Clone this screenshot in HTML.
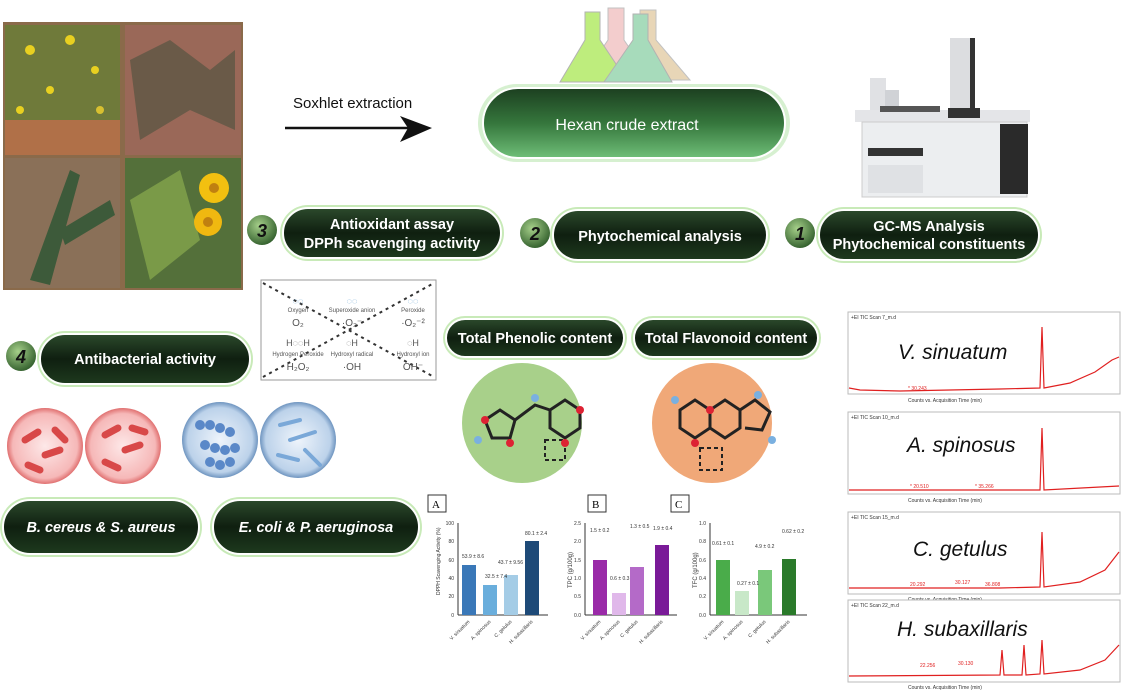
<!DOCTYPE html>
<html><head><meta charset="utf-8"><style>
html,body{margin:0;padding:0;background:#fff;width:1128px;height:690px;overflow:hidden}
svg{display:block;font-family:"Liberation Sans",Arial,sans-serif}
</style></head><body>
<svg width="1128" height="690" viewBox="0 0 1128 690" xmlns="http://www.w3.org/2000/svg">
<defs>
<linearGradient id="pill" x1="0" y1="0" x2="0" y2="1">
<stop offset="0" stop-color="#2c4a2c"/><stop offset="0.5" stop-color="#0f1f10"/><stop offset="1" stop-color="#1e3a1e"/></linearGradient>
<linearGradient id="hex" x1="0" y1="0" x2="0" y2="1">
<stop offset="0" stop-color="#1c3f20"/><stop offset="0.5" stop-color="#35763c"/><stop offset="1" stop-color="#6fbf78"/></linearGradient>
<radialGradient id="num" cx="0.4" cy="0.35" r="0.7"><stop offset="0" stop-color="#a6d08a"/><stop offset="1" stop-color="#2f5c2a"/></radialGradient>
<radialGradient id="bacR" cx="0.5" cy="0.5" r="0.5"><stop offset="0" stop-color="#fde8e8"/><stop offset="0.85" stop-color="#f6b8b8"/><stop offset="1" stop-color="#e07070"/></radialGradient>
<radialGradient id="bacB" cx="0.5" cy="0.5" r="0.5"><stop offset="0" stop-color="#eef4fb"/><stop offset="0.85" stop-color="#bcd2ea"/><stop offset="1" stop-color="#6f95c0"/></radialGradient>
</defs>

<!-- photos -->
<rect x="3" y="22" width="240" height="268" fill="#8a6a4a"/>
<rect x="5" y="25" width="115" height="130" fill="#6f7a3a"/>
<circle cx="30" cy="50" r="5" fill="#e8d020"/><circle cx="70" cy="40" r="5" fill="#e8d020"/><circle cx="95" cy="70" r="4" fill="#e8d020"/><circle cx="50" cy="90" r="4" fill="#e8d020"/><circle cx="20" cy="110" r="4" fill="#e8d020"/><circle cx="100" cy="110" r="4" fill="#d8c030"/>
<rect x="5" y="120" width="115" height="35" fill="#b07048"/>
<rect x="125" y="25" width="116" height="130" fill="#9a6858"/>
<path d="M130 60 L170 40 L210 70 L235 50 L235 130 L190 110 L140 140Z" fill="#6a5a48"/>
<rect x="5" y="158" width="115" height="130" fill="#8a7058"/>
<path d="M30 280 L70 170 L80 175 L50 285Z M60 230 L110 200 L115 215 L65 245Z" fill="#3d5a3a"/>
<rect x="125" y="158" width="116" height="130" fill="#54703a"/>
<path d="M130 200 L180 170 L200 240 L150 280Z" fill="#7a9a48"/>
<circle cx="214" cy="188" r="15" fill="#f2c010"/><circle cx="208" cy="222" r="14" fill="#f0b810"/>
<circle cx="214" cy="188" r="5" fill="#c08010"/><circle cx="208" cy="222" r="5" fill="#c08010"/>

<!-- soxhlet -->
<text x="293" y="108" font-size="15" fill="#111">Soxhlet extraction</text>
<line x1="285" y1="128" x2="415" y2="128" stroke="#111" stroke-width="2.5"/>
<path d="M400 116 L432 128 L400 142 L408 128Z" fill="#111"/>

<!-- flasks -->
<g opacity="0.9">
<path d="M608 8 L624 8 L624 40 L650 78 L582 78 L608 40Z" fill="#f2c8c8" stroke="#bbb"/>
<path d="M640 10 L656 10 L656 40 L690 80 L614 80 L640 40Z" fill="#e6d2b0" stroke="#bbb"/>
<path d="M585 12 L600 12 L600 40 L628 82 L560 82 L585 40Z" fill="#b8ec70" stroke="#aaa"/>
<path d="M633 14 L648 14 L648 40 L672 82 L604 82 L633 40Z" fill="#9ed8b4" stroke="#aaa"/>
</g>

<!-- hexan pill -->
<rect x="478" y="84" width="312" height="78" rx="39" fill="#d6f0d0"/>
<rect x="483" y="88" width="302" height="70" rx="35" fill="url(#hex)" stroke="#fff" stroke-width="2"/>
<text x="627" y="130" font-size="16" fill="#fff" text-anchor="middle">Hexan crude extract</text>

<!-- GC-MS machine -->
<g>
<rect x="950" y="38" width="25" height="70" fill="#dcdde0"/><rect x="970" y="38" width="5" height="70" fill="#333"/>
<rect x="870" y="78" width="16" height="35" fill="#e0e1e4"/><rect x="885" y="90" width="14" height="18" fill="#d0d2d6"/>
<rect x="855" y="110" width="175" height="12" fill="#e4e5e8"/>
<rect x="880" y="106" width="60" height="6" fill="#555"/><rect x="948" y="108" width="32" height="10" fill="#333"/>
<rect x="862" y="122" width="165" height="75" fill="#eceef0" stroke="#ccc"/>
<rect x="868" y="148" width="55" height="8" fill="#333"/>
<rect x="1000" y="124" width="28" height="70" fill="#2a2a2a"/>
<rect x="868" y="165" width="55" height="28" fill="#dfe1e4"/>
</g>

<!-- numbered pills -->
<g font-weight="bold">
<circle cx="262" cy="230" r="15" fill="url(#num)"/><text x="262" y="237" font-size="18" font-style="italic" fill="#111" text-anchor="middle">3</text>
<rect x="280" y="205" width="224" height="56" rx="28" fill="#c8eab8"/>
<rect x="283" y="208" width="218" height="50" rx="25" fill="url(#pill)" stroke="#fff" stroke-width="2"/>
<text x="392" y="229" font-size="14.5" fill="#fff" text-anchor="middle">Antioxidant assay</text>
<text x="392" y="248" font-size="14.5" fill="#fff" text-anchor="middle">DPPh scavenging activity</text>

<circle cx="535" cy="233" r="15" fill="url(#num)"/><text x="535" y="240" font-size="18" font-style="italic" fill="#111" text-anchor="middle">2</text>
<rect x="550" y="207" width="220" height="56" rx="28" fill="#c8eab8"/>
<rect x="553" y="210" width="214" height="50" rx="25" fill="url(#pill)" stroke="#fff" stroke-width="2"/>
<text x="660" y="241" font-size="14.5" fill="#fff" text-anchor="middle">Phytochemical analysis</text>

<circle cx="800" cy="233" r="15" fill="url(#num)"/><text x="800" y="240" font-size="18" font-style="italic" fill="#111" text-anchor="middle">1</text>
<rect x="816" y="207" width="226" height="56" rx="28" fill="#c8eab8"/>
<rect x="819" y="210" width="220" height="50" rx="25" fill="url(#pill)" stroke="#fff" stroke-width="2"/>
<text x="929" y="231" font-size="14.5" fill="#fff" text-anchor="middle">GC-MS Analysis</text>
<text x="929" y="249" font-size="14.5" fill="#fff" text-anchor="middle">Phytochemical constituents</text>

<circle cx="21" cy="356" r="15" fill="url(#num)"/><text x="21" y="363" font-size="18" font-style="italic" fill="#111" text-anchor="middle">4</text>
<rect x="37" y="331" width="216" height="56" rx="28" fill="#c8eab8"/>
<rect x="40" y="334" width="210" height="50" rx="25" fill="url(#pill)" stroke="#fff" stroke-width="2"/>
<text x="145" y="364" font-size="14.5" fill="#fff" text-anchor="middle">Antibacterial activity</text>

<rect x="443" y="316" width="184" height="44" rx="22" fill="#c8eab8"/>
<rect x="446" y="319" width="178" height="38" rx="19" fill="url(#pill)" stroke="#fff" stroke-width="2"/>
<text x="535" y="343" font-size="14.5" fill="#fff" text-anchor="middle">Total Phenolic content</text>
<rect x="631" y="316" width="190" height="44" rx="22" fill="#c8eab8"/>
<rect x="634" y="319" width="184" height="38" rx="19" fill="url(#pill)" stroke="#fff" stroke-width="2"/>
<text x="726" y="343" font-size="14.5" fill="#fff" text-anchor="middle">Total Flavonoid content</text>

<rect x="0" y="497" width="202" height="60" rx="30" fill="#c8eab8"/>
<rect x="3" y="500" width="196" height="54" rx="27" fill="url(#pill)" stroke="#fff" stroke-width="2"/>
<text x="101" y="532" font-size="14.5" font-style="italic" fill="#fff" text-anchor="middle">B. cereus &amp; S. aureus</text>
<rect x="210" y="497" width="212" height="60" rx="30" fill="#c8eab8"/>
<rect x="213" y="500" width="206" height="54" rx="27" fill="url(#pill)" stroke="#fff" stroke-width="2"/>
<text x="316" y="532" font-size="14.5" font-style="italic" fill="#fff" text-anchor="middle">E. coli &amp; P. aeruginosa</text>
</g>

<!-- ROS box -->
<rect x="261" y="280" width="175" height="100" fill="#fff" stroke="#999"/>
<line x1="263" y1="283" x2="434" y2="377" stroke="#333" stroke-width="2" stroke-dasharray="3,4"/>
<line x1="263" y1="377" x2="434" y2="283" stroke="#333" stroke-width="2" stroke-dasharray="3,4"/>
<g font-size="6" fill="#555" text-anchor="middle">
<text x="298" y="304" fill="#4a90c8" font-size="9">◌◌</text><text x="298" y="312">Oxygen</text><text x="298" y="326" font-size="10">O₂</text>
<text x="352" y="304" fill="#4a90c8" font-size="9">◌◌</text><text x="352" y="312">Superoxide anion</text><text x="352" y="326" font-size="10">·O₂⁻</text>
<text x="413" y="304" fill="#4a90c8" font-size="9">◌◌</text><text x="413" y="312">Peroxide</text><text x="413" y="326" font-size="10">·O₂⁻²</text>
<text x="298" y="346" font-size="9">H◌◌H</text><text x="298" y="356">Hydrogen Peroxide</text><text x="298" y="370" font-size="10">H₂O₂</text>
<text x="352" y="346" font-size="9">◌H</text><text x="352" y="356">Hydroxyl radical</text><text x="352" y="370" font-size="10">·OH</text>
<text x="413" y="346" font-size="9">◌H</text><text x="413" y="356">Hydroxyl ion</text><text x="413" y="370" font-size="10">OH⁻</text>
</g>

<!-- molecule circles -->
<circle cx="522" cy="423" r="60" fill="#a8d08a"/>
<circle cx="712" cy="423" r="60" fill="#f0a878"/>
<g stroke="#222" stroke-width="3" fill="none">
<path d="M485 420 L500 410 L515 420 L510 438 L492 438Z"/><path d="M515 420 L535 405 L550 410"/>
<path d="M550 410 L565 400 L580 410 L580 428 L565 438 L550 428Z"/>
<path d="M680 410 L695 400 L710 410 L710 428 L695 438 L680 428Z"/><path d="M710 410 L725 400 L740 410 L740 428 L725 438 L710 428Z"/>
<path d="M740 410 L755 400 L770 412 L762 430 L745 428"/>
</g>
<rect x="545" y="440" width="20" height="20" fill="none" stroke="#222" stroke-width="2" stroke-dasharray="4,3"/>
<rect x="700" y="448" width="22" height="22" fill="none" stroke="#222" stroke-width="2" stroke-dasharray="4,3"/>
<g fill="#d23"><circle cx="485" cy="420" r="4"/><circle cx="510" cy="443" r="4"/><circle cx="580" cy="410" r="4"/><circle cx="565" cy="443" r="4"/><circle cx="710" cy="410" r="4"/><circle cx="695" cy="443" r="4"/></g>
<g fill="#7ab0e0"><circle cx="478" cy="440" r="4"/><circle cx="535" cy="398" r="4"/><circle cx="675" cy="400" r="4"/><circle cx="772" cy="440" r="4"/><circle cx="758" cy="395" r="4"/></g>

<!-- bacteria -->
<circle cx="45" cy="446" r="38" fill="url(#bacR)"/><circle cx="123" cy="446" r="38" fill="url(#bacR)"/>
<g stroke="#d84848" stroke-width="7" stroke-linecap="round">
<line x1="25" y1="440" x2="38" y2="432"/><line x1="45" y1="455" x2="60" y2="450"/><line x1="28" y1="465" x2="40" y2="470"/><line x1="55" y1="430" x2="65" y2="440"/>
<line x1="105" y1="435" x2="118" y2="428"/><line x1="125" y1="450" x2="140" y2="445"/><line x1="105" y1="462" x2="118" y2="468"/><line x1="132" y1="428" x2="145" y2="432"/></g>
<circle cx="220" cy="440" r="38" fill="url(#bacB)"/><circle cx="298" cy="440" r="38" fill="url(#bacB)"/>
<g fill="#5a88c8"><circle cx="200" cy="425" r="5"/><circle cx="210" cy="425" r="5"/><circle cx="220" cy="428" r="5"/><circle cx="230" cy="432" r="5"/><circle cx="205" cy="445" r="5"/><circle cx="215" cy="448" r="5"/><circle cx="225" cy="450" r="5"/><circle cx="235" cy="448" r="5"/><circle cx="210" cy="462" r="5"/><circle cx="220" cy="465" r="5"/><circle cx="230" cy="462" r="5"/></g>
<g stroke="#7aa8d8" stroke-width="4" stroke-linecap="round"><line x1="280" y1="425" x2="300" y2="420"/><line x1="290" y1="440" x2="315" y2="432"/><line x1="278" y1="455" x2="298" y2="460"/><line x1="305" y1="450" x2="320" y2="465"/></g>

<!-- bar charts -->
<g font-family="Liberation Serif,serif" font-size="11"><rect x="428" y="495" width="18" height="17" fill="#fff" stroke="#333"/><text x="432" y="508">A</text>
<rect x="588" y="495" width="18" height="17" fill="#fff" stroke="#333"/><text x="592" y="508">B</text>
<rect x="671" y="495" width="18" height="17" fill="#fff" stroke="#333"/><text x="675" y="508">C</text></g>
<g font-size="5" fill="#333">
<line x1="458" y1="523" x2="458" y2="615" stroke="#333"/><line x1="458" y1="615" x2="548" y2="615" stroke="#333"/>
<text x="454" y="525" text-anchor="end">100</text><text x="454" y="543" text-anchor="end">80</text><text x="454" y="562" text-anchor="end">60</text><text x="454" y="580" text-anchor="end">40</text><text x="454" y="598" text-anchor="end">20</text><text x="454" y="617" text-anchor="end">0</text>
<rect x="462" y="565" width="14" height="50" fill="#3a78b8"/><rect x="483" y="585" width="14" height="30" fill="#6aaedc"/><rect x="504" y="575" width="14" height="40" fill="#a4cce6"/><rect x="525" y="541" width="14" height="74" fill="#1e4a78"/>
<text x="462" y="558">53.9 ± 8.6</text><text x="485" y="578">32.5 ± 7.4</text><text x="498" y="564">43.7 ± 9.56</text><text x="525" y="535">80.1 ± 2.4</text>
<text transform="translate(440,595) rotate(-90)">DPPH Scavenging Activity (%)</text>
<line x1="585" y1="523" x2="585" y2="615" stroke="#333"/><line x1="585" y1="615" x2="677" y2="615" stroke="#333"/>
<text x="581" y="525" text-anchor="end">2.5</text><text x="581" y="543" text-anchor="end">2.0</text><text x="581" y="562" text-anchor="end">1.5</text><text x="581" y="580" text-anchor="end">1.0</text><text x="581" y="598" text-anchor="end">0.5</text><text x="581" y="617" text-anchor="end">0.0</text>
<rect x="593" y="560" width="14" height="55" fill="#9a2aa8"/><rect x="612" y="593" width="14" height="22" fill="#e0b8ea"/><rect x="630" y="567" width="14" height="48" fill="#b46ac8"/><rect x="655" y="545" width="14" height="70" fill="#7a1a98"/>
<text x="590" y="532">1.5 ± 0.2</text><text x="610" y="580">0.6 ± 0.3</text><text x="630" y="528">1.3 ± 0.5</text><text x="653" y="530">1.9 ± 0.4</text>
<text transform="translate(572,588) rotate(-90)" font-size="6">TPC (g/100g)</text>
<line x1="710" y1="523" x2="710" y2="615" stroke="#333"/><line x1="710" y1="615" x2="807" y2="615" stroke="#333"/>
<text x="706" y="525" text-anchor="end">1.0</text><text x="706" y="543" text-anchor="end">0.8</text><text x="706" y="562" text-anchor="end">0.6</text><text x="706" y="580" text-anchor="end">0.4</text><text x="706" y="598" text-anchor="end">0.2</text><text x="706" y="617" text-anchor="end">0.0</text>
<rect x="716" y="560" width="14" height="55" fill="#4aac4a"/><rect x="735" y="591" width="14" height="24" fill="#c8e8c8"/><rect x="758" y="570" width="14" height="45" fill="#7ac87a"/><rect x="782" y="559" width="14" height="56" fill="#2a7a2a"/>
<text x="712" y="545">0.61 ± 0.1</text><text x="737" y="585">0.27 ± 0.1</text><text x="755" y="548">4.9 ± 0.2</text><text x="782" y="533">0.62 ± 0.2</text>
<text transform="translate(697,588) rotate(-90)" font-size="6">TFC (g/100g)</text>
<g text-anchor="end">
<text transform="translate(470,622) rotate(-45)">V. sinuatum</text><text transform="translate(491,622) rotate(-45)">A. spinosus</text><text transform="translate(512,622) rotate(-45)">C. gelulus</text><text transform="translate(533,622) rotate(-45)">H. subaxillaris</text>
<text transform="translate(601,622) rotate(-45)">V. sinuatum</text><text transform="translate(620,622) rotate(-45)">A. spinosus</text><text transform="translate(638,622) rotate(-45)">C. getulus</text><text transform="translate(663,622) rotate(-45)">H. subaxillaris</text>
<text transform="translate(724,622) rotate(-45)">V. sinuatum</text><text transform="translate(743,622) rotate(-45)">A. spinosus</text><text transform="translate(766,622) rotate(-45)">C. getulus</text><text transform="translate(790,622) rotate(-45)">H. subaxillaris</text>
</g>
</g>

<!-- chromatograms -->
<g font-size="5" fill="#333">
<g>
<rect x="848" y="312" width="272" height="82" fill="#fff" stroke="#bbb"/>
<text x="851" y="319">+EI TIC Scan 7_m.d</text>
<path d="M849 388 L860 390 L900 391 L1000 389 L1040 388 L1042 327 L1044 388 L1070 383 L1095 372 L1112 360 L1119 357" fill="none" stroke="#e02020" stroke-width="1.2"/>
<text x="908" y="390" fill="#e02020">* 30.243</text>
<text x="908" y="402">Counts vs. Acquisition Time (min)</text>
<text x="898" y="359" font-size="21" font-style="italic" fill="#111">V. sinuatum</text>
</g>
<g>
<rect x="848" y="412" width="272" height="82" fill="#fff" stroke="#bbb"/>
<text x="851" y="419">+EI TIC Scan 10_m.d</text>
<path d="M849 490 L1040 490 L1042 428 L1044 490 L1119 486" fill="none" stroke="#e02020" stroke-width="1.2"/>
<text x="910" y="488" fill="#e02020">* 20.510</text><text x="975" y="488" fill="#e02020">* 35.266</text>
<text x="908" y="502">Counts vs. Acquisition Time (min)</text>
<text x="907" y="452" font-size="21" font-style="italic" fill="#111">A. spinosus</text>
</g>
<g>
<rect x="848" y="512" width="272" height="82" fill="#fff" stroke="#bbb"/>
<text x="851" y="519">+EI TIC Scan 15_m.d</text>
<path d="M849 588 L1000 588 L1040 587 L1042 532 L1044 587 L1080 582 L1105 570 L1119 552" fill="none" stroke="#e02020" stroke-width="1.2"/>
<text x="910" y="586" fill="#e02020">20.292</text><text x="955" y="584" fill="#e02020">30.127</text><text x="985" y="586" fill="#e02020">36.808</text>
<text x="908" y="601">Counts vs. Acquisition Time (min)</text>
<text x="913" y="556" font-size="21" font-style="italic" fill="#111">C. getulus</text>
</g>
<g>
<rect x="848" y="600" width="272" height="82" fill="#fff" stroke="#bbb"/>
<text x="851" y="607">+EI TIC Scan 22_m.d</text>
<path d="M849 676 L1000 675 L1002 650 L1004 675 L1022 675 L1024 645 L1026 675 L1040 674 L1042 640 L1044 674 L1080 670 L1105 660 L1119 645" fill="none" stroke="#e02020" stroke-width="1.2"/>
<text x="920" y="667" fill="#e02020">22.256</text><text x="958" y="665" fill="#e02020">30.130</text>
<text x="908" y="689">Counts vs. Acquisition Time (min)</text>
<text x="897" y="636" font-size="21" font-style="italic" fill="#111">H. subaxillaris</text>
</g>
</g>
</svg>
</body></html>
